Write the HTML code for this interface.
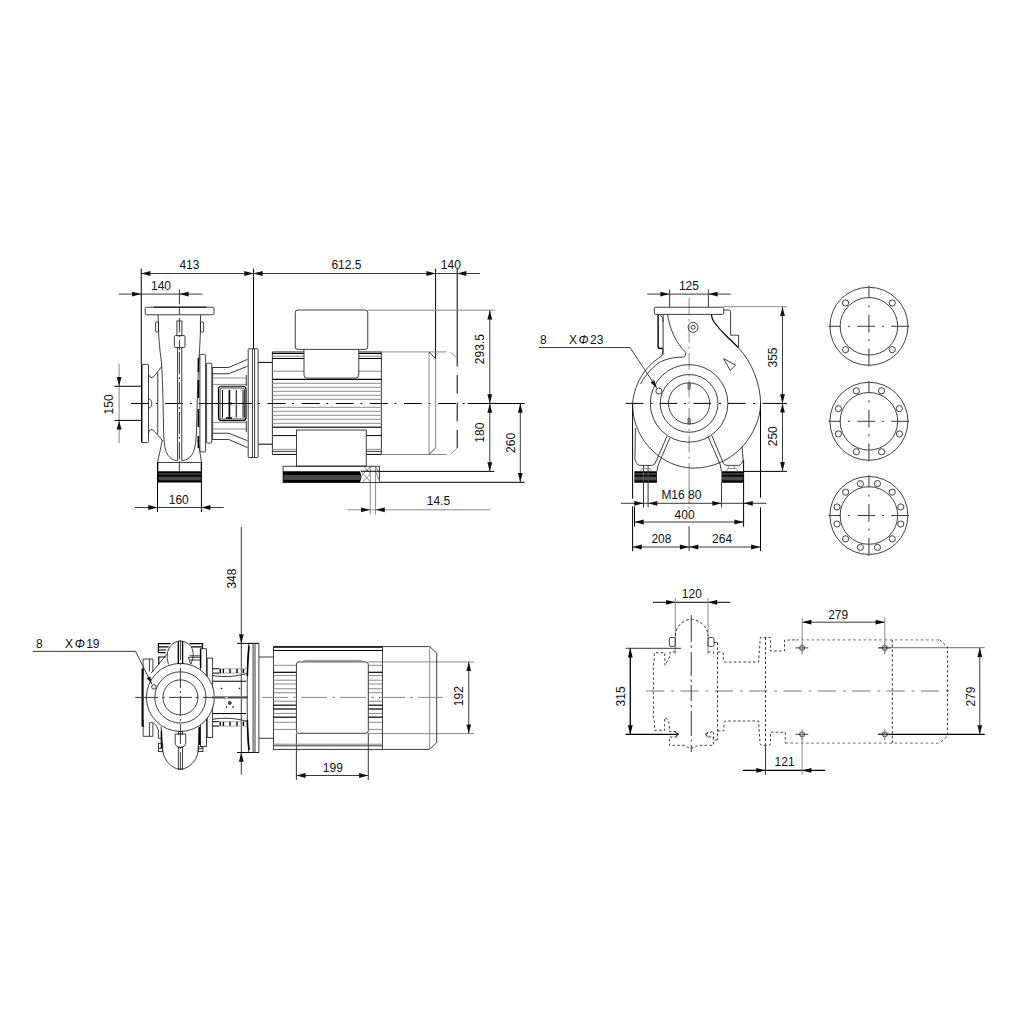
<!DOCTYPE html>
<html><head><meta charset="utf-8"><title>Dimensional drawing</title>
<style>
html,body{margin:0;padding:0;background:#fff;}
svg{display:block;}
text{font-family:"Liberation Sans",sans-serif;fill:#111;}
</style></head><body>
<svg width="1024" height="1024" viewBox="0 0 1024 1024">
<rect width="1024" height="1024" fill="#fff"/>
<g id="side-view">
<line x1="141.25" y1="273.5" x2="480" y2="273.5" stroke="#3a3a3a" stroke-width="1"/>
<polygon points="141.25,273.5 150.45,271.1 150.45,275.9" fill="#111"/>
<polygon points="253.5,273.5 244.3,271.1 244.3,275.9" fill="#111"/>
<polygon points="253.5,273.5 262.7,271.1 262.7,275.9" fill="#111"/>
<polygon points="435.6,273.5 426.4,271.1 426.4,275.9" fill="#111"/>
<polygon points="457.2,273.5 466.4,271.1 466.4,275.9" fill="#111"/>
<line x1="141.25" y1="268.75" x2="141.25" y2="364.4" stroke="#000" stroke-width="1"/>
<line x1="253.5" y1="268.75" x2="253.5" y2="348.75" stroke="#000" stroke-width="1"/>
<line x1="435.6" y1="268.75" x2="435.6" y2="358.6" stroke="#000" stroke-width="1"/>
<line x1="457.2" y1="268.75" x2="457.2" y2="366.4" stroke="#000" stroke-width="1"/>
<line x1="457.2" y1="375" x2="457.2" y2="393.5" stroke="#000" stroke-width="1"/>
<line x1="457.2" y1="402.6" x2="457.2" y2="421.4" stroke="#000" stroke-width="1"/>
<line x1="457.2" y1="430" x2="457.2" y2="448" stroke="#000" stroke-width="1"/>
<text x="189.4" y="268.75" text-anchor="middle" font-size="12">413</text>
<text x="346.4" y="268.75" text-anchor="middle" font-size="12">612.5</text>
<text x="450.8" y="268.75" text-anchor="middle" font-size="12">140</text>
<line x1="118.75" y1="294.1" x2="202.5" y2="294.1" stroke="#3a3a3a" stroke-width="1"/>
<polygon points="141.25,294.1 132.05,291.7 132.05,296.5" fill="#111"/>
<polygon points="179.4,294.1 188.6,291.7 188.6,296.5" fill="#111"/>
<text x="161" y="289.75" text-anchor="middle" font-size="12">140</text>
<line x1="119.1" y1="363.75" x2="119.1" y2="443.1" stroke="#8a8a8a" stroke-width="1"/>
<line x1="114.4" y1="386.25" x2="141.5" y2="386.25" stroke="#000" stroke-width="1"/>
<line x1="114.4" y1="420.4" x2="141.5" y2="420.4" stroke="#000" stroke-width="1"/>
<polygon points="119.1,386.25 116.7,377.05 121.5,377.05" fill="#111"/>
<polygon points="119.1,420.4 116.7,429.6 121.5,429.6" fill="#111"/>
<text transform="translate(113.1 404.4) rotate(-90)" text-anchor="middle" font-size="12">150</text>
<line x1="135" y1="507.5" x2="223.75" y2="507.5" stroke="#3a3a3a" stroke-width="1"/>
<polygon points="157.5,507.5 148.3,505.1 148.3,509.9" fill="#111"/>
<polygon points="201.25,507.5 210.45,505.1 210.45,509.9" fill="#111"/>
<line x1="157.5" y1="462.5" x2="157.5" y2="512" stroke="#000" stroke-width="1"/>
<line x1="201.4" y1="462.5" x2="201.4" y2="512" stroke="#000" stroke-width="1"/>
<text x="178.75" y="503.75" text-anchor="middle" font-size="12">160</text>
<line x1="347.5" y1="509.8" x2="490.3" y2="509.8" stroke="#8a8a8a" stroke-width="1"/>
<polygon points="370.25,509.8 361.05,507.4 361.05,512.2" fill="#111"/>
<polygon points="375.6,509.8 384.8,507.4 384.8,512.2" fill="#111"/>
<line x1="370.25" y1="466" x2="370.25" y2="514.4" stroke="#8a8a8a" stroke-width="1"/>
<line x1="375.6" y1="466" x2="375.6" y2="514.4" stroke="#8a8a8a" stroke-width="1"/>
<text x="438.4" y="504.5" text-anchor="middle" font-size="12">14.5</text>
<line x1="367.75" y1="310.2" x2="495" y2="310.2" stroke="#8a8a8a" stroke-width="1"/>
<line x1="489.8" y1="310.2" x2="489.8" y2="471.4" stroke="#3a3a3a" stroke-width="1"/>
<polygon points="489.8,310.2 487.4,319.4 492.2,319.4" fill="#111"/>
<polygon points="489.8,403.5 487.4,394.3 492.2,394.3" fill="#111"/>
<polygon points="489.8,403.5 487.4,412.7 492.2,412.7" fill="#111"/>
<polygon points="489.8,471.4 487.4,462.2 492.2,462.2" fill="#111"/>
<text transform="translate(484 349.2) rotate(-90)" text-anchor="middle" font-size="12">293.5</text>
<text transform="translate(484 432.7) rotate(-90)" text-anchor="middle" font-size="12">180</text>
<line x1="520.3" y1="403.5" x2="520.3" y2="482.3" stroke="#3a3a3a" stroke-width="1"/>
<polygon points="520.3,403.5 517.9,412.7 522.7,412.7" fill="#111"/>
<polygon points="520.3,482.3 517.9,473.1 522.7,473.1" fill="#111"/>
<text transform="translate(515.3 442.9) rotate(-90)" text-anchor="middle" font-size="12">260</text>
<line x1="379.5" y1="471.4" x2="494.2" y2="471.4" stroke="#000" stroke-width="1"/>
<line x1="379.5" y1="482.3" x2="524.7" y2="482.3" stroke="#000" stroke-width="1"/>
<line x1="131.1" y1="403.5" x2="149.1" y2="403.5" stroke="#000" stroke-width="1"/>
<line x1="155.9" y1="403.5" x2="157.7" y2="403.5" stroke="#000" stroke-width="1"/>
<line x1="165.2" y1="403.5" x2="183.2" y2="403.5" stroke="#000" stroke-width="1"/>
<line x1="190" y1="403.5" x2="191.8" y2="403.5" stroke="#000" stroke-width="1"/>
<line x1="258.2" y1="403.5" x2="260" y2="403.5" stroke="#000" stroke-width="1"/>
<line x1="267.5" y1="403.5" x2="285.5" y2="403.5" stroke="#000" stroke-width="1"/>
<line x1="292.3" y1="403.5" x2="294.1" y2="403.5" stroke="#000" stroke-width="1"/>
<line x1="301.6" y1="403.5" x2="319.6" y2="403.5" stroke="#000" stroke-width="1"/>
<line x1="326.4" y1="403.5" x2="328.2" y2="403.5" stroke="#000" stroke-width="1"/>
<line x1="335.7" y1="403.5" x2="353.7" y2="403.5" stroke="#000" stroke-width="1"/>
<line x1="360.5" y1="403.5" x2="362.3" y2="403.5" stroke="#000" stroke-width="1"/>
<line x1="369.8" y1="403.5" x2="387.8" y2="403.5" stroke="#000" stroke-width="1"/>
<line x1="394.6" y1="403.5" x2="396.4" y2="403.5" stroke="#000" stroke-width="1"/>
<line x1="403.9" y1="403.5" x2="421.9" y2="403.5" stroke="#000" stroke-width="1"/>
<line x1="428.7" y1="403.5" x2="430.5" y2="403.5" stroke="#000" stroke-width="1"/>
<line x1="438" y1="403.5" x2="456" y2="403.5" stroke="#000" stroke-width="1"/>
<line x1="462.8" y1="403.5" x2="464.6" y2="403.5" stroke="#000" stroke-width="1"/>
<line x1="198.75" y1="403.5" x2="252" y2="403.5" stroke="#000" stroke-width="1"/>
<line x1="467.7" y1="403.5" x2="524.7" y2="403.5" stroke="#000" stroke-width="1"/>
<rect x="141.9" y="364.4" width="6.6" height="78.1" rx="0.8" stroke="#1e1e1e" stroke-width="0.85" fill="none"/>
<line x1="141.6" y1="364.4" x2="141.6" y2="442.5" stroke="#000" stroke-width="1.2"/>
<path d="M148.5 373.75 C149.5 376.5 150.6 378.3 152 377.6 C155 375.5 158 371.5 161.6 366.5" stroke="#1e1e1e" stroke-width="0.85" fill="none"/>
<path d="M148.5 433.2 C149.5 430.5 150.6 428.7 152 429.4 C155 431.5 158.5 436 162.8 441" stroke="#1e1e1e" stroke-width="0.85" fill="none"/>
<path d="M148.5 398.75 C152.8 399 152.8 408 148.5 408.2" stroke="#1e1e1e" stroke-width="0.85" fill="none"/>
<line x1="157.75" y1="372.5" x2="157.75" y2="434.5" stroke="#3a3a3a" stroke-width="1"/>
<rect x="145.25" y="307.25" width="68.75" height="7.5" rx="1.2" stroke="#1e1e1e" stroke-width="0.85" fill="none"/>
<line x1="153.75" y1="307.1" x2="206.25" y2="307.1" stroke="#000" stroke-width="1"/>
<path d="M158 314.75 L158.4 322 L158.6 332 C159.2 345 160.5 355 161.4 362 C162.3 372 163 395 163.6 430 C163.9 444 165 451 168 455.3 C170.5 458.5 173.5 460.3 176.25 460.6 L177.5 460.6" stroke="#1e1e1e" stroke-width="0.85" fill="none"/>
<path d="M200.6 314.75 L200.4 322 L200.4 332 C199.9 345 199.3 355 198.75 362 C197.8 380 197 410 196.5 430 C196.2 444 194.5 451 191.5 455.3 C189 458.5 186 460.3 183.2 460.6 L181.9 460.6" stroke="#1e1e1e" stroke-width="0.85" fill="none"/>
<rect x="155.6" y="322" width="2.9" height="10" rx="1" stroke="#1e1e1e" stroke-width="0.85" fill="none"/>
<rect x="200.5" y="322" width="3.1" height="10" rx="1" stroke="#1e1e1e" stroke-width="0.85" fill="none"/>
<rect x="176.9" y="321" width="5" height="14.6" rx="0" stroke="#3a3a3a" stroke-width="1" fill="none"/>
<rect x="174.4" y="335.6" width="10.6" height="11.9" rx="1" stroke="#3a3a3a" stroke-width="1" fill="none"/>
<line x1="177.6" y1="347.5" x2="177.6" y2="460.6" stroke="#3a3a3a" stroke-width="1"/>
<line x1="181.8" y1="347.5" x2="181.8" y2="460.6" stroke="#3a3a3a" stroke-width="1"/>
<line x1="179.4" y1="289.4" x2="179.4" y2="304.4" stroke="#3a3a3a" stroke-width="1"/>
<line x1="179.4" y1="306.9" x2="179.4" y2="314.4" stroke="#3a3a3a" stroke-width="1"/>
<line x1="179.4" y1="318" x2="179.4" y2="350" stroke="#3a3a3a" stroke-width="1" stroke-dasharray="14 3 2 3"/>
<line x1="179.4" y1="352" x2="179.4" y2="459" stroke="#3a3a3a" stroke-width="1" stroke-dasharray="22 3 2 3"/>
<line x1="179.4" y1="461" x2="179.4" y2="473" stroke="#3a3a3a" stroke-width="1"/>
<path d="M162.4 440 L157.5 462.5 L201.5 462.5 L198 440" stroke="#1e1e1e" stroke-width="0.85" fill="none"/>
<line x1="157.8" y1="462.5" x2="157.8" y2="471.25" stroke="#000" stroke-width="1"/>
<line x1="201.3" y1="462.5" x2="201.3" y2="471.25" stroke="#000" stroke-width="1"/>
<rect x="158" y="471.25" width="43.25" height="11.25" rx="0" fill="#000"/>
<rect x="158.5" y="473.2" width="42.3" height="1.6" rx="0" fill="#4a4a4a"/>
<rect x="158.5" y="476.6" width="42.3" height="3.8" rx="0" fill="#4a4a4a"/>
<rect x="199.9" y="354.4" width="5.7" height="97.5" rx="0.8" stroke="#1e1e1e" stroke-width="0.85" fill="none"/>
<rect x="206.6" y="363.3" width="5.2" height="79.8" rx="0.8" stroke="#1e1e1e" stroke-width="0.85" fill="none"/>
<line x1="198.4" y1="358" x2="198.4" y2="372" stroke="#000" stroke-width="1.6"/>
<line x1="198.4" y1="380" x2="198.4" y2="398" stroke="#000" stroke-width="1.6"/>
<line x1="198.4" y1="409" x2="198.4" y2="427" stroke="#000" stroke-width="1.6"/>
<line x1="198.4" y1="436" x2="198.4" y2="448" stroke="#000" stroke-width="1.6"/>
<path d="M212 439.5 L228.75 439.5 L247.5 447.6" stroke="#3a3a3a" stroke-width="1" fill="none"/>
<path d="M212 433.25 L228.75 433.25 L247.5 440.75" stroke="#3a3a3a" stroke-width="1" fill="none"/>
<line x1="212" y1="429" x2="246.25" y2="429" stroke="#8a8a8a" stroke-width="1"/>
<line x1="212" y1="422.6" x2="246.25" y2="422.6" stroke="#8a8a8a" stroke-width="1"/>
<line x1="246.25" y1="432" x2="246.25" y2="421" stroke="#3a3a3a" stroke-width="1"/>
<path d="M212 367.5 L228.75 367.5 L247.5 359.4" stroke="#3a3a3a" stroke-width="1" fill="none"/>
<path d="M212 373.75 L228.75 373.75 L247.5 366.25" stroke="#3a3a3a" stroke-width="1" fill="none"/>
<line x1="212" y1="378" x2="246.25" y2="378" stroke="#8a8a8a" stroke-width="1"/>
<line x1="212" y1="384.4" x2="246.25" y2="384.4" stroke="#8a8a8a" stroke-width="1"/>
<line x1="246.25" y1="375" x2="246.25" y2="386" stroke="#3a3a3a" stroke-width="1"/>
<line x1="212.6" y1="367.5" x2="212.6" y2="439.5" stroke="#3a3a3a" stroke-width="1"/>
<rect x="218.5" y="386.25" width="27.5" height="34.35" rx="3" stroke="#000" stroke-width="1.2" fill="none"/>
<rect x="220" y="388" width="24.5" height="31" rx="2" stroke="#3a3a3a" stroke-width="1" fill="none"/>
<line x1="222.5" y1="390" x2="222.5" y2="417.5" stroke="#000" stroke-width="1"/>
<line x1="229.4" y1="390" x2="229.4" y2="417.5" stroke="#000" stroke-width="1.6"/>
<line x1="236.25" y1="390" x2="236.25" y2="417.5" stroke="#000" stroke-width="1"/>
<line x1="243" y1="390" x2="243" y2="417.5" stroke="#000" stroke-width="1"/>
<line x1="228.5" y1="402" x2="231.5" y2="405" stroke="#000" stroke-width="0.8"/>
<line x1="228.5" y1="405" x2="231.5" y2="402" stroke="#000" stroke-width="0.8"/>
<line x1="226" y1="418" x2="232" y2="418" stroke="#000" stroke-width="1.6"/>
<rect x="248.2" y="348.75" width="9.9" height="108.75" rx="0.8" stroke="#1e1e1e" stroke-width="0.85" fill="none"/>
<line x1="252.4" y1="348.75" x2="252.4" y2="457.5" stroke="#3a3a3a" stroke-width="1"/>
<line x1="254.6" y1="348.75" x2="254.6" y2="457.5" stroke="#3a3a3a" stroke-width="1"/>
<line x1="258.1" y1="362.4" x2="272.4" y2="362.4" stroke="#000" stroke-width="1"/>
<line x1="258.1" y1="444.2" x2="272.4" y2="444.2" stroke="#000" stroke-width="1"/>
<line x1="272.4" y1="351.9" x2="272.4" y2="454.4" stroke="#1e1e1e" stroke-width="0.9"/>
<line x1="381.4" y1="351.9" x2="381.4" y2="454.4" stroke="#1e1e1e" stroke-width="0.9"/>
<line x1="272.4" y1="351.9" x2="304" y2="351.9" stroke="#3a3a3a" stroke-width="1"/>
<line x1="272.4" y1="353.4" x2="304" y2="353.4" stroke="#000" stroke-width="1.2"/>
<line x1="272.4" y1="356.25" x2="304" y2="356.25" stroke="#8a8a8a" stroke-width="1"/>
<line x1="272.4" y1="358.5" x2="304" y2="358.5" stroke="#000" stroke-width="1"/>
<line x1="272.4" y1="371.25" x2="304" y2="371.25" stroke="#8a8a8a" stroke-width="1"/>
<line x1="358.75" y1="351.9" x2="381.4" y2="351.9" stroke="#3a3a3a" stroke-width="1"/>
<line x1="358.75" y1="353.4" x2="381.4" y2="353.4" stroke="#000" stroke-width="1.2"/>
<line x1="358.75" y1="356.25" x2="381.4" y2="356.25" stroke="#8a8a8a" stroke-width="1"/>
<line x1="358.75" y1="358.5" x2="381.4" y2="358.5" stroke="#000" stroke-width="1"/>
<line x1="358.75" y1="371.25" x2="381.4" y2="371.25" stroke="#8a8a8a" stroke-width="1"/>
<line x1="272.4" y1="435.6" x2="296.5" y2="435.6" stroke="#000" stroke-width="1"/>
<line x1="366.25" y1="435.6" x2="381.4" y2="435.6" stroke="#000" stroke-width="1"/>
<line x1="272.4" y1="449.4" x2="296.5" y2="449.4" stroke="#8a8a8a" stroke-width="1"/>
<line x1="272.4" y1="451.4" x2="296.5" y2="451.4" stroke="#3a3a3a" stroke-width="1"/>
<line x1="272.4" y1="454.4" x2="296.5" y2="454.4" stroke="#000" stroke-width="1"/>
<line x1="366.25" y1="449.4" x2="381.4" y2="449.4" stroke="#8a8a8a" stroke-width="1"/>
<line x1="366.25" y1="451.4" x2="381.4" y2="451.4" stroke="#3a3a3a" stroke-width="1"/>
<line x1="366.25" y1="454.4" x2="381.4" y2="454.4" stroke="#000" stroke-width="1"/>
<line x1="272.4" y1="379.4" x2="381.4" y2="379.4" stroke="#000" stroke-width="1.3"/>
<line x1="272.4" y1="383.4" x2="381.4" y2="383.4" stroke="#a2a2a2" stroke-width="1.2"/>
<line x1="272.4" y1="387.4" x2="381.4" y2="387.4" stroke="#a2a2a2" stroke-width="1.2"/>
<line x1="272.4" y1="391.4" x2="381.4" y2="391.4" stroke="#a2a2a2" stroke-width="1.2"/>
<line x1="272.4" y1="395.4" x2="381.4" y2="395.4" stroke="#a2a2a2" stroke-width="1.2"/>
<line x1="272.4" y1="399.4" x2="381.4" y2="399.4" stroke="#a2a2a2" stroke-width="1.2"/>
<line x1="272.4" y1="407.4" x2="381.4" y2="407.4" stroke="#a2a2a2" stroke-width="1.2"/>
<line x1="272.4" y1="411.4" x2="381.4" y2="411.4" stroke="#a2a2a2" stroke-width="1.2"/>
<line x1="272.4" y1="415.4" x2="381.4" y2="415.4" stroke="#a2a2a2" stroke-width="1.2"/>
<line x1="272.4" y1="419.4" x2="381.4" y2="419.4" stroke="#a2a2a2" stroke-width="1.2"/>
<line x1="272.4" y1="423.4" x2="381.4" y2="423.4" stroke="#a2a2a2" stroke-width="1.2"/>
<line x1="272.4" y1="427.4" x2="381.4" y2="427.4" stroke="#a2a2a2" stroke-width="1.2"/>
<line x1="272.4" y1="427.2" x2="381.4" y2="427.2" stroke="#000" stroke-width="1"/>
<rect x="295.25" y="310" width="72.5" height="39.4" rx="2.5" stroke="#1e1e1e" stroke-width="0.85" fill="none"/>
<path d="M304 349.4 L304 375 Q304 378.1 307 378.1 L355.75 378.1 Q358.75 378.1 358.75 375 L358.75 349.4" stroke="#1e1e1e" stroke-width="0.85" fill="none"/>
<rect x="296.5" y="430" width="69.75" height="36.1" rx="0" stroke="#1e1e1e" stroke-width="0.85" fill="none"/>
<rect x="283.1" y="466.25" width="96.3" height="16.25" rx="0" stroke="#1e1e1e" stroke-width="0.85" fill="none"/>
<path d="M283.1 471.25 L360 471.25 L361.6 476.9 L360 482.5 L283.1 482.5 Z" stroke="None" stroke-width="0" fill="#000"/>
<path d="M283.6 475 L360.2 475 L360.8 477.4 L360.2 480 L283.6 480 Z" stroke="None" stroke-width="0" fill="#484848"/>
<line x1="360.5" y1="470.5" x2="370" y2="481.5" stroke="#8a8a8a" stroke-width="1"/>
<line x1="364" y1="466.5" x2="370.25" y2="473.5" stroke="#8a8a8a" stroke-width="1"/>
<line x1="370" y1="467" x2="360.5" y2="477" stroke="#8a8a8a" stroke-width="1"/>
<line x1="370" y1="474" x2="362.5" y2="482.3" stroke="#8a8a8a" stroke-width="1"/>
<line x1="375.8" y1="472" x2="379.2" y2="480" stroke="#8a8a8a" stroke-width="1"/>
<line x1="375.8" y1="467" x2="379.2" y2="473" stroke="#8a8a8a" stroke-width="1"/>
<line x1="361" y1="471.25" x2="379.4" y2="471.25" stroke="#000" stroke-width="1"/>
<line x1="381.4" y1="351.9" x2="446.5" y2="351.9" stroke="#8a8a8a" stroke-width="1"/>
<line x1="381.4" y1="454.5" x2="446.5" y2="454.5" stroke="#8a8a8a" stroke-width="1"/>
<line x1="429" y1="351.9" x2="429" y2="454.5" stroke="#8a8a8a" stroke-width="1"/>
<line x1="435.6" y1="358.6" x2="435.6" y2="448" stroke="#8a8a8a" stroke-width="1"/>
<line x1="429" y1="351.9" x2="435.6" y2="358.6" stroke="#3a3a3a" stroke-width="1"/>
<line x1="450.5" y1="351.9" x2="457.2" y2="358.6" stroke="#8a8a8a" stroke-width="1"/>
<line x1="429" y1="454.5" x2="435.6" y2="448" stroke="#3a3a3a" stroke-width="1"/>
<line x1="450.5" y1="454.5" x2="457.2" y2="448" stroke="#8a8a8a" stroke-width="1"/>
</g>
<g id="front-view">
<text x="540" y="343.75" text-anchor="start" font-size="12">8</text>
<text x="569" y="343.75" text-anchor="start" font-size="12">X</text>
<text x="578.6" y="343.75" font-size="12" font-style="italic">Φ</text>
<text x="590" y="343.75" text-anchor="start" font-size="12">23</text>
<path d="M539 347.5 L630 347.5 L656.6 387.6" stroke="#1e1e1e" stroke-width="0.85" fill="none"/>
<polygon points="656.8,387.9 650.54,382.45 654.21,380.02" fill="#111"/>
<circle cx="658.9" cy="391.1" r="3" stroke="#1e1e1e" stroke-width="0.85" fill="none"/>
<line x1="647.25" y1="294.1" x2="730.6" y2="294.1" stroke="#3a3a3a" stroke-width="1"/>
<line x1="669.6" y1="289.4" x2="669.6" y2="307" stroke="#3a3a3a" stroke-width="1"/>
<line x1="708.4" y1="289.4" x2="708.4" y2="307" stroke="#3a3a3a" stroke-width="1"/>
<polygon points="669.6,294.1 660.4,291.7 660.4,296.5" fill="#111"/>
<polygon points="708.4,294.1 717.6,291.7 717.6,296.5" fill="#111"/>
<text x="688.9" y="290" text-anchor="middle" font-size="12">125</text>
<line x1="723.75" y1="306.7" x2="786.9" y2="306.7" stroke="#8a8a8a" stroke-width="1"/>
<line x1="782.5" y1="306.7" x2="782.5" y2="471.25" stroke="#3a3a3a" stroke-width="1"/>
<polygon points="782.5,306.7 780.1,315.9 784.9,315.9" fill="#111"/>
<polygon points="782.5,403.4 780.1,394.2 784.9,394.2" fill="#111"/>
<polygon points="782.5,403.4 780.1,412.6 784.9,412.6" fill="#111"/>
<polygon points="782.5,471.25 780.1,462.05 784.9,462.05" fill="#111"/>
<text transform="translate(776.5 357.5) rotate(-90)" text-anchor="middle" font-size="12">355</text>
<text transform="translate(776.5 436.25) rotate(-90)" text-anchor="middle" font-size="12">250</text>
<line x1="743.6" y1="471.4" x2="786.9" y2="471.4" stroke="#000" stroke-width="1"/>
<line x1="625.6" y1="403.4" x2="643.3" y2="403.4" stroke="#000" stroke-width="1"/>
<line x1="650.5" y1="403.4" x2="652.5" y2="403.4" stroke="#000" stroke-width="1"/>
<line x1="659.8" y1="403.4" x2="677.2" y2="403.4" stroke="#000" stroke-width="1"/>
<line x1="684.2" y1="403.4" x2="686" y2="403.4" stroke="#000" stroke-width="1"/>
<line x1="693.5" y1="403.4" x2="711.2" y2="403.4" stroke="#000" stroke-width="1"/>
<line x1="719" y1="403.4" x2="721" y2="403.4" stroke="#000" stroke-width="1"/>
<line x1="728" y1="403.4" x2="745.6" y2="403.4" stroke="#000" stroke-width="1"/>
<line x1="753" y1="403.4" x2="755" y2="403.4" stroke="#000" stroke-width="1"/>
<line x1="762.5" y1="403.4" x2="786.9" y2="403.4" stroke="#000" stroke-width="1"/>
<line x1="689.1" y1="298" x2="689.1" y2="470" stroke="#8a8a8a" stroke-width="1" stroke-dasharray="17 4 2.5 4"/>
<line x1="689.1" y1="470" x2="689.1" y2="504" stroke="#8a8a8a" stroke-width="1"/>
<line x1="689.1" y1="507" x2="689.1" y2="519" stroke="#8a8a8a" stroke-width="1" stroke-dasharray="2 8 4 0"/>
<line x1="689.1" y1="526" x2="689.1" y2="551" stroke="#3a3a3a" stroke-width="1"/>
<line x1="621" y1="503.3" x2="766.25" y2="503.3" stroke="#3a3a3a" stroke-width="1"/>
<polygon points="643.5,503.3 634.3,500.9 634.3,505.7" fill="#111"/>
<polygon points="648.1,503.3 657.3,500.9 657.3,505.7" fill="#111"/>
<polygon points="721.5,503.3 712.3,500.9 712.3,505.7" fill="#111"/>
<polygon points="743.6,503.3 752.8,500.9 752.8,505.7" fill="#111"/>
<line x1="643.5" y1="465.4" x2="643.5" y2="507.5" stroke="#3a3a3a" stroke-width="1"/>
<line x1="648.1" y1="465.4" x2="648.1" y2="507.5" stroke="#3a3a3a" stroke-width="1"/>
<line x1="721.5" y1="482.75" x2="721.5" y2="507.5" stroke="#3a3a3a" stroke-width="1"/>
<text x="681.4" y="498.8" text-anchor="middle" font-size="12">M16 80</text>
<line x1="634.5" y1="522" x2="743.6" y2="522" stroke="#3a3a3a" stroke-width="1"/>
<polygon points="634.5,522 643.7,519.6 643.7,524.4" fill="#111"/>
<polygon points="743.6,522 734.4,519.6 734.4,524.4" fill="#111"/>
<line x1="634.5" y1="506.4" x2="634.5" y2="526.7" stroke="#000" stroke-width="1"/>
<line x1="743.6" y1="460" x2="743.6" y2="526.7" stroke="#000" stroke-width="1"/>
<text x="684.6" y="518.6" text-anchor="middle" font-size="12">400</text>
<line x1="632.6" y1="547" x2="760.3" y2="547" stroke="#3a3a3a" stroke-width="1"/>
<polygon points="632.6,547 641.8,544.6 641.8,549.4" fill="#111"/>
<polygon points="689.1,547 679.9,544.6 679.9,549.4" fill="#111"/>
<polygon points="689.1,547 698.3,544.6 698.3,549.4" fill="#111"/>
<polygon points="760.3,547 751.1,544.6 751.1,549.4" fill="#111"/>
<line x1="632.6" y1="403" x2="632.6" y2="498.6" stroke="#000" stroke-width="1"/>
<line x1="632.6" y1="506.4" x2="632.6" y2="551" stroke="#000" stroke-width="1"/>
<line x1="760.5" y1="403" x2="760.5" y2="497.6" stroke="#000" stroke-width="1"/>
<line x1="760.5" y1="507.3" x2="760.5" y2="551" stroke="#000" stroke-width="1"/>
<text x="661.4" y="542.8" text-anchor="middle" font-size="12">208</text>
<text x="722.1" y="542.8" text-anchor="middle" font-size="12">264</text>
<rect x="654.4" y="307.25" width="69.35" height="7.15" rx="1.2" stroke="#1e1e1e" stroke-width="0.85" fill="none"/>
<path d="M658.1 314.4 L658.1 347 Q658.1 348.5 660 348.5 L663.1 348.5" stroke="#000" stroke-width="1.4" fill="none"/>
<line x1="663.1" y1="314.4" x2="663.1" y2="355" stroke="#3a3a3a" stroke-width="1"/>
<path d="M659.5 314.6 C662 316 663 318 663.1 322" stroke="#3a3a3a" stroke-width="1" fill="none"/>
<path d="M667.5 314.4 C670 330 676 343 685.8 352.5 C686 354.5 685 356.5 684 357 C676 357 667 358.5 660.5 361.8 C654 365.5 646 374 640.5 384" stroke="#1e1e1e" stroke-width="0.85" fill="none"/>
<path d="M663 349.5 C662.8 352 662.6 354 661.2 356.5 C648 364 634.5 381 632.6 403.4 C632.6 409 633.3 415 634.8 421 C641 444 662 466.5 692 468.1 C712 468.5 731 460 743.5 445.5 C753 434 760.6 419 760.6 403.4 C760.4 384 752 362 738.3 347.6" stroke="#1e1e1e" stroke-width="0.85" fill="none"/>
<path d="M711.3 314.4 C711.8 318 712.6 320 713.75 321.5 C717 326 721 331 725.6 335.2 C730 339.5 734 343.5 738.3 347.6" stroke="#000" stroke-width="1.2" fill="none"/>
<path d="M723.75 310 L728.8 310 Q730.6 310 730.6 311.8 L730.6 335.2 L738.6 335.2 L738.6 347.6" stroke="#1e1e1e" stroke-width="0.85" fill="none"/>
<circle cx="693.1" cy="327.3" r="5" stroke="#1e1e1e" stroke-width="0.85" fill="none"/>
<circle cx="693.1" cy="327.3" r="2" stroke="#1e1e1e" stroke-width="0.85" fill="none"/>
<path d="M723.6 358.6 L735.6 365.1 L730.2 370.4 Z" stroke="#1e1e1e" stroke-width="0.85" fill="none"/>
<circle cx="689.1" cy="403.4" r="38.8" stroke="#1e1e1e" stroke-width="0.85" fill="none"/>
<circle cx="689.1" cy="403.4" r="28.9" stroke="#1e1e1e" stroke-width="0.85" fill="none"/>
<circle cx="689.1" cy="403.4" r="20.6" stroke="#1e1e1e" stroke-width="0.85" fill="none"/>
<path d="M688.1 382.9 L688.1 388.5 L689.1 389.8 L690.1 388.5 L690.1 382.9" stroke="#3a3a3a" stroke-width="1" fill="none"/>
<path d="M688.1 424 L688.1 418.6 Q689.1 417 690.1 418.6 L690.1 424" stroke="#3a3a3a" stroke-width="1" fill="none"/>
<path d="M667 436.2 L655.3 463 Q654.3 465.4 651.5 465.4 L639.6 465.4 Q637.5 465.3 636.5 463 L634.9 459.5 L635.4 428" stroke="#1e1e1e" stroke-width="0.85" fill="none"/>
<path d="M669.8 437.9 L657.6 466.5 L657 471.2" stroke="#1e1e1e" stroke-width="0.85" fill="none"/>
<path d="M711.8 435.4 L723.3 463.2 Q724.3 465.4 727 465.4 L738.6 465.4 Q740.8 465.3 741.6 463.2 L743.2 460.4 L742 446.3" stroke="#1e1e1e" stroke-width="0.85" fill="none"/>
<path d="M708.2 436.8 L720 464 L721.5 471.2" stroke="#1e1e1e" stroke-width="0.85" fill="none"/>
<path d="M640.5 471.2 L641.8 468.6 L650.2 468.6 L651.4 471.2" stroke="#8a8a8a" stroke-width="1" fill="none"/>
<path d="M726.4 471.2 L727.6 468.6 L736.6 468.6 L737.8 471.2" stroke="#8a8a8a" stroke-width="1" fill="none"/>
<line x1="728.8" y1="465.4" x2="728.8" y2="468.6" stroke="#8a8a8a" stroke-width="1"/>
<line x1="734.4" y1="465.4" x2="734.4" y2="468.6" stroke="#8a8a8a" stroke-width="1"/>
<rect x="634.4" y="471.25" width="22.5" height="11.5" rx="0" fill="#000"/>
<rect x="634.9" y="473.2" width="21.5" height="1.6" rx="0" fill="#4a4a4a"/>
<rect x="634.9" y="476.6" width="21.5" height="3.8" rx="0" fill="#4a4a4a"/>
<rect x="721.5" y="471.25" width="22.2" height="11.5" rx="0" fill="#000"/>
<rect x="722" y="473.2" width="21.2" height="1.6" rx="0" fill="#4a4a4a"/>
<rect x="722" y="476.6" width="21.2" height="3.8" rx="0" fill="#4a4a4a"/>
<line x1="643.5" y1="471.25" x2="643.5" y2="482.75" stroke="#555" stroke-width="1"/>
<line x1="648.1" y1="471.25" x2="648.1" y2="482.75" stroke="#555" stroke-width="1"/>
</g>
<g id="flanges">
<circle cx="868.9" cy="326.3" r="39" stroke="#1e1e1e" stroke-width="0.85" fill="none"/>
<circle cx="868.9" cy="326.3" r="28.8" stroke="#1e1e1e" stroke-width="0.85" fill="none"/>
<circle cx="892.23" cy="349.63" r="3.1" stroke="#1e1e1e" stroke-width="0.85" fill="none"/>
<circle cx="845.57" cy="349.63" r="3.1" stroke="#1e1e1e" stroke-width="0.85" fill="none"/>
<circle cx="845.57" cy="302.97" r="3.1" stroke="#1e1e1e" stroke-width="0.85" fill="none"/>
<circle cx="892.23" cy="302.97" r="3.1" stroke="#1e1e1e" stroke-width="0.85" fill="none"/>
<line x1="828.4" y1="326.3" x2="840.9" y2="326.3" stroke="#3a3a3a" stroke-width="1"/>
<line x1="868.9" y1="285.8" x2="868.9" y2="298.3" stroke="#555" stroke-width="1.2"/>
<line x1="847.9" y1="326.3" x2="849.9" y2="326.3" stroke="#3a3a3a" stroke-width="1"/>
<line x1="868.9" y1="305.3" x2="868.9" y2="307.3" stroke="#555" stroke-width="1.2"/>
<line x1="857.4" y1="326.3" x2="875.1" y2="326.3" stroke="#3a3a3a" stroke-width="1"/>
<line x1="868.9" y1="314.8" x2="868.9" y2="332.5" stroke="#555" stroke-width="1.2"/>
<line x1="881.9" y1="326.3" x2="883.9" y2="326.3" stroke="#3a3a3a" stroke-width="1"/>
<line x1="868.9" y1="339.3" x2="868.9" y2="341.3" stroke="#555" stroke-width="1.2"/>
<line x1="891.2" y1="326.3" x2="909.2" y2="326.3" stroke="#3a3a3a" stroke-width="1"/>
<line x1="868.9" y1="348.6" x2="868.9" y2="366.6" stroke="#555" stroke-width="1.2"/>
<circle cx="868.9" cy="421.3" r="39" stroke="#1e1e1e" stroke-width="0.85" fill="none"/>
<circle cx="868.9" cy="421.3" r="28.8" stroke="#1e1e1e" stroke-width="0.85" fill="none"/>
<circle cx="899.39" cy="433.93" r="3.1" stroke="#1e1e1e" stroke-width="0.85" fill="none"/>
<circle cx="881.53" cy="451.79" r="3.1" stroke="#1e1e1e" stroke-width="0.85" fill="none"/>
<circle cx="856.27" cy="451.79" r="3.1" stroke="#1e1e1e" stroke-width="0.85" fill="none"/>
<circle cx="838.41" cy="433.93" r="3.1" stroke="#1e1e1e" stroke-width="0.85" fill="none"/>
<circle cx="838.41" cy="408.67" r="3.1" stroke="#1e1e1e" stroke-width="0.85" fill="none"/>
<circle cx="856.27" cy="390.81" r="3.1" stroke="#1e1e1e" stroke-width="0.85" fill="none"/>
<circle cx="881.53" cy="390.81" r="3.1" stroke="#1e1e1e" stroke-width="0.85" fill="none"/>
<circle cx="899.39" cy="408.67" r="3.1" stroke="#1e1e1e" stroke-width="0.85" fill="none"/>
<line x1="828.4" y1="421.3" x2="840.9" y2="421.3" stroke="#3a3a3a" stroke-width="1"/>
<line x1="868.9" y1="380.8" x2="868.9" y2="393.3" stroke="#555" stroke-width="1.2"/>
<line x1="847.9" y1="421.3" x2="849.9" y2="421.3" stroke="#3a3a3a" stroke-width="1"/>
<line x1="868.9" y1="400.3" x2="868.9" y2="402.3" stroke="#555" stroke-width="1.2"/>
<line x1="857.4" y1="421.3" x2="875.1" y2="421.3" stroke="#3a3a3a" stroke-width="1"/>
<line x1="868.9" y1="409.8" x2="868.9" y2="427.5" stroke="#555" stroke-width="1.2"/>
<line x1="881.9" y1="421.3" x2="883.9" y2="421.3" stroke="#3a3a3a" stroke-width="1"/>
<line x1="868.9" y1="434.3" x2="868.9" y2="436.3" stroke="#555" stroke-width="1.2"/>
<line x1="891.2" y1="421.3" x2="909.2" y2="421.3" stroke="#3a3a3a" stroke-width="1"/>
<line x1="868.9" y1="443.6" x2="868.9" y2="461.6" stroke="#555" stroke-width="1.2"/>
<circle cx="868.9" cy="515.5" r="39" stroke="#1e1e1e" stroke-width="0.85" fill="none"/>
<circle cx="868.9" cy="515.5" r="28.8" stroke="#1e1e1e" stroke-width="0.85" fill="none"/>
<circle cx="900.78" cy="524.04" r="3.1" stroke="#1e1e1e" stroke-width="0.85" fill="none"/>
<circle cx="892.23" cy="538.83" r="3.1" stroke="#1e1e1e" stroke-width="0.85" fill="none"/>
<circle cx="877.44" cy="547.38" r="3.1" stroke="#1e1e1e" stroke-width="0.85" fill="none"/>
<circle cx="860.36" cy="547.38" r="3.1" stroke="#1e1e1e" stroke-width="0.85" fill="none"/>
<circle cx="845.57" cy="538.83" r="3.1" stroke="#1e1e1e" stroke-width="0.85" fill="none"/>
<circle cx="837.02" cy="524.04" r="3.1" stroke="#1e1e1e" stroke-width="0.85" fill="none"/>
<circle cx="837.02" cy="506.96" r="3.1" stroke="#1e1e1e" stroke-width="0.85" fill="none"/>
<circle cx="845.57" cy="492.17" r="3.1" stroke="#1e1e1e" stroke-width="0.85" fill="none"/>
<circle cx="860.36" cy="483.62" r="3.1" stroke="#1e1e1e" stroke-width="0.85" fill="none"/>
<circle cx="877.44" cy="483.62" r="3.1" stroke="#1e1e1e" stroke-width="0.85" fill="none"/>
<circle cx="892.23" cy="492.17" r="3.1" stroke="#1e1e1e" stroke-width="0.85" fill="none"/>
<circle cx="900.78" cy="506.96" r="3.1" stroke="#1e1e1e" stroke-width="0.85" fill="none"/>
<line x1="828.4" y1="515.5" x2="840.9" y2="515.5" stroke="#3a3a3a" stroke-width="1"/>
<line x1="868.9" y1="475" x2="868.9" y2="487.5" stroke="#555" stroke-width="1.2"/>
<line x1="847.9" y1="515.5" x2="849.9" y2="515.5" stroke="#3a3a3a" stroke-width="1"/>
<line x1="868.9" y1="494.5" x2="868.9" y2="496.5" stroke="#555" stroke-width="1.2"/>
<line x1="857.4" y1="515.5" x2="875.1" y2="515.5" stroke="#3a3a3a" stroke-width="1"/>
<line x1="868.9" y1="504" x2="868.9" y2="521.7" stroke="#555" stroke-width="1.2"/>
<line x1="881.9" y1="515.5" x2="883.9" y2="515.5" stroke="#3a3a3a" stroke-width="1"/>
<line x1="868.9" y1="528.5" x2="868.9" y2="530.5" stroke="#555" stroke-width="1.2"/>
<line x1="891.2" y1="515.5" x2="909.2" y2="515.5" stroke="#3a3a3a" stroke-width="1"/>
<line x1="868.9" y1="537.8" x2="868.9" y2="555.8" stroke="#555" stroke-width="1.2"/>
</g>
<g id="top-view">
<text x="36" y="647.5" text-anchor="start" font-size="12">8</text>
<text x="65" y="647.5" text-anchor="start" font-size="12">X</text>
<text x="74.8" y="647.5" font-size="12" font-style="italic">Φ</text>
<text x="86.2" y="647.5" text-anchor="start" font-size="12">19</text>
<line x1="241.3" y1="526.9" x2="241.3" y2="643.4" stroke="#3a3a3a" stroke-width="1"/>
<line x1="241.3" y1="752.5" x2="241.3" y2="774.7" stroke="#3a3a3a" stroke-width="1"/>
<polygon points="241.3,643.4 238.9,634.2 243.7,634.2" fill="#111"/>
<polygon points="241.3,752.5 238.9,761.7 243.7,761.7" fill="#111"/>
<line x1="237" y1="643.4" x2="258.9" y2="643.4" stroke="#000" stroke-width="1"/>
<line x1="237" y1="752.5" x2="258.9" y2="752.5" stroke="#000" stroke-width="1"/>
<text transform="translate(235.6 578.6) rotate(-90)" text-anchor="middle" font-size="12">348</text>
<line x1="241.3" y1="643.4" x2="241.3" y2="752.5" stroke="#3a3a3a" stroke-width="1"/>
<line x1="296.4" y1="775.5" x2="368.3" y2="775.5" stroke="#3a3a3a" stroke-width="1"/>
<polygon points="296.4,775.5 305.6,773.1 305.6,777.9" fill="#111"/>
<polygon points="368.3,775.5 359.1,773.1 359.1,777.9" fill="#111"/>
<line x1="296.4" y1="733.3" x2="296.4" y2="780" stroke="#3a3a3a" stroke-width="1"/>
<line x1="368.3" y1="733.3" x2="368.3" y2="780" stroke="#3a3a3a" stroke-width="1"/>
<text x="332.8" y="771.5" text-anchor="middle" font-size="12">199</text>
<line x1="368.3" y1="661.9" x2="474.2" y2="661.9" stroke="#8a8a8a" stroke-width="1"/>
<line x1="368.3" y1="733.6" x2="474.2" y2="733.6" stroke="#8a8a8a" stroke-width="1"/>
<line x1="468.75" y1="661.9" x2="468.75" y2="733.6" stroke="#3a3a3a" stroke-width="1"/>
<polygon points="468.75,661.9 466.35,671.1 471.15,671.1" fill="#111"/>
<polygon points="468.75,733.6 466.35,724.4 471.15,724.4" fill="#111"/>
<text transform="translate(463.3 696.2) rotate(-90)" text-anchor="middle" font-size="12">192</text>
<rect x="200.4" y="648.75" width="6.1" height="97.75" rx="0" stroke="#1e1e1e" stroke-width="0.85" fill="none"/>
<rect x="207.2" y="658.1" width="5.45" height="79.4" rx="0" stroke="#1e1e1e" stroke-width="0.85" fill="none"/>
<line x1="200.6" y1="649" x2="200.6" y2="668" stroke="#000" stroke-width="1.5"/>
<circle cx="180.4" cy="697.4" r="34" stroke="#1e1e1e" stroke-width="0.85" fill="#fff"/>
<circle cx="180.4" cy="697.4" r="25.6" stroke="#1e1e1e" stroke-width="0.85" fill="none"/>
<circle cx="180.4" cy="697.4" r="17.5" stroke="#1e1e1e" stroke-width="0.85" fill="none"/>
<line x1="142.3" y1="668.5" x2="142.3" y2="726.6" stroke="#000" stroke-width="1.5"/>
<path d="M143.1 676 L143.1 659 L152.9 659 L152.9 669.6 Q152.9 672 151.6 672.6" stroke="#1e1e1e" stroke-width="0.85" fill="none"/>
<line x1="149.4" y1="659" x2="149.4" y2="671.4" stroke="#3a3a3a" stroke-width="1"/>
<path d="M151.5 672.8 L167.4 653.6" stroke="#1e1e1e" stroke-width="0.85" fill="none"/>
<path d="M143.1 720 L143.1 736.3 L152.9 736.3 L152.9 723.4" stroke="#1e1e1e" stroke-width="0.85" fill="none"/>
<line x1="149.4" y1="722.7" x2="149.4" y2="736.3" stroke="#3a3a3a" stroke-width="1"/>
<path d="M149.4 722.7 C152 721.6 155.5 723.8 156.8 726.6 L158.75 731.25" stroke="#1e1e1e" stroke-width="0.85" fill="none"/>
<line x1="143.1" y1="668" x2="143.1" y2="727" stroke="#000" stroke-width="1"/>
<path d="M168.5 664.4 C167.2 660 167 657 167.3 654.5 C168 646 174 641.2 180.3 641 C187 641.2 192.8 646 193.2 653.4 C193.3 657 192.3 661 190.8 664.4" stroke="#1e1e1e" stroke-width="0.85" fill="none"/>
<line x1="178.3" y1="641.3" x2="178.3" y2="664" stroke="#000" stroke-width="1.3"/>
<line x1="182.6" y1="641.3" x2="182.6" y2="664" stroke="#000" stroke-width="1.3"/>
<path d="M170.5 643.7 L158.4 643.7 L158.4 652.7 L165.6 652.7 M158.4 646.8 L168.6 646.8 M158.4 650 L166.3 650" stroke="#000" stroke-width="1.2" fill="none"/>
<path d="M165.8 657 L158.75 657 L158.75 664.5" stroke="#000" stroke-width="1.2" fill="none"/>
<path d="M189.5 643.7 L202.5 643.7 L202.5 648.75 M191.6 646.8 L202.5 646.8" stroke="#000" stroke-width="1.2" fill="none"/>
<path d="M189.3 655.8 L200 655.8 M188.4 657.3 L200 657.3 M189.8 660 L200 660 M188.4 657.3 L190.6 663.6" stroke="#1e1e1e" stroke-width="0.85" fill="none"/>
<path d="M161.1 726.6 L162.7 750.8 C163.3 754 164 757 165.8 759.4 C167.5 762 169 764 171.25 765.6 C173.5 767.3 176 768.6 178.3 769.1 L182.6 769.1 C185.5 768.3 188.5 766.8 190.8 764.8 C193 763 195 760.5 196.25 757.8 C197.4 755.5 197.9 753 198.2 750.8 L199 726.6" stroke="#1e1e1e" stroke-width="0.85" fill="none"/>
<line x1="199.6" y1="727" x2="199.6" y2="745" stroke="#000" stroke-width="1.6"/>
<line x1="161.4" y1="731" x2="161.4" y2="748" stroke="#000" stroke-width="1.4"/>
<rect x="178.3" y="747.3" width="4.3" height="21.8" rx="0" stroke="#1e1e1e" stroke-width="0.85" fill="none"/>
<path d="M175.2 734 L175.2 742.5 Q175.4 747.3 180.4 747.3 Q185.5 747.3 185.7 742.5 L185.7 734 Z" stroke="#1e1e1e" stroke-width="0.85" fill="none"/>
<rect x="178.3" y="731.6" width="4.3" height="2.4" rx="0" stroke="#1e1e1e" stroke-width="0.85" fill="none"/>
<rect x="158.4" y="743.4" width="4.3" height="8.2" rx="0" stroke="#1e1e1e" stroke-width="0.85" fill="none"/>
<line x1="158.4" y1="748.4" x2="162.7" y2="748.4" stroke="#3a3a3a" stroke-width="1"/>
<rect x="198.2" y="746.9" width="4.7" height="4.7" rx="0" stroke="#1e1e1e" stroke-width="0.85" fill="none"/>
<line x1="198.2" y1="748.8" x2="202.9" y2="748.8" stroke="#3a3a3a" stroke-width="1"/>
<path d="M158.4 730.5 L158.4 738.3 L161.5 738.3" stroke="#1e1e1e" stroke-width="0.85" fill="none"/>
<line x1="212.5" y1="726.05" x2="219" y2="726.05" stroke="#000" stroke-width="1"/>
<line x1="212.5" y1="721.7" x2="219" y2="721.7" stroke="#000" stroke-width="1"/>
<line x1="219" y1="726.05" x2="246" y2="726.05" stroke="#aaa" stroke-width="1"/>
<line x1="219" y1="721.7" x2="246" y2="721.7" stroke="#aaa" stroke-width="1"/>
<line x1="220.3" y1="725.8" x2="220.3" y2="721.9" stroke="#000" stroke-width="1.4"/>
<line x1="223.4" y1="725.8" x2="223.4" y2="721.9" stroke="#000" stroke-width="1.4"/>
<line x1="230" y1="725.8" x2="230" y2="721.9" stroke="#000" stroke-width="1.4"/>
<line x1="237" y1="725.8" x2="237" y2="721.9" stroke="#000" stroke-width="1.4"/>
<line x1="243.4" y1="725.8" x2="243.4" y2="721.9" stroke="#000" stroke-width="1.4"/>
<path d="M212.5 719.3 C225 717.3 236 718.3 247 721.3" stroke="#3a3a3a" stroke-width="1" fill="none"/>
<line x1="212.5" y1="713.55" x2="246" y2="713.55" stroke="#000" stroke-width="1"/>
<line x1="212.5" y1="698.2" x2="247.5" y2="698.2" stroke="#000" stroke-width="1"/>
<line x1="212.5" y1="668.75" x2="219" y2="668.75" stroke="#000" stroke-width="1"/>
<line x1="212.5" y1="673.1" x2="219" y2="673.1" stroke="#000" stroke-width="1"/>
<line x1="219" y1="668.75" x2="246" y2="668.75" stroke="#aaa" stroke-width="1"/>
<line x1="219" y1="673.1" x2="246" y2="673.1" stroke="#aaa" stroke-width="1"/>
<line x1="220.3" y1="669" x2="220.3" y2="672.9" stroke="#000" stroke-width="1.4"/>
<line x1="223.4" y1="669" x2="223.4" y2="672.9" stroke="#000" stroke-width="1.4"/>
<line x1="230" y1="669" x2="230" y2="672.9" stroke="#000" stroke-width="1.4"/>
<line x1="237" y1="669" x2="237" y2="672.9" stroke="#000" stroke-width="1.4"/>
<line x1="243.4" y1="669" x2="243.4" y2="672.9" stroke="#000" stroke-width="1.4"/>
<path d="M212.5 675.5 C225 677.5 236 676.5 247 673.5" stroke="#3a3a3a" stroke-width="1" fill="none"/>
<line x1="212.5" y1="681.25" x2="246" y2="681.25" stroke="#000" stroke-width="1"/>
<line x1="212.5" y1="696.6" x2="247.5" y2="696.6" stroke="#000" stroke-width="1"/>
<rect x="212.5" y="696.2" width="35" height="2.6" rx="0" fill="#bbb"/>
<circle cx="229.75" cy="702.9" r="1.5" stroke="#1e1e1e" stroke-width="0.85" fill="#555"/>
<circle cx="221.5" cy="688.4" r="0.5" stroke="#000" stroke-width="0.6" fill="#000"/>
<circle cx="239.5" cy="688.4" r="0.5" stroke="#000" stroke-width="0.6" fill="#000"/>
<circle cx="226.5" cy="707" r="0.5" stroke="#000" stroke-width="0.6" fill="#000"/>
<circle cx="233" cy="707" r="0.5" stroke="#000" stroke-width="0.6" fill="#000"/>
<path d="M248.75 643.4 L258.9 643.4 L258.9 752.5 L248.75 752.5 C246.6 720 246.6 676 248.75 643.4 Z" stroke="#1e1e1e" stroke-width="0.85" fill="none"/>
<line x1="253.1" y1="643.4" x2="253.1" y2="752.5" stroke="#3a3a3a" stroke-width="1"/>
<line x1="255" y1="643.4" x2="255" y2="752.5" stroke="#3a3a3a" stroke-width="1"/>
<path d="M249 646 C247.8 660 247.4 668 247.4 676" stroke="#000" stroke-width="1.6" fill="none"/>
<path d="M249 750 C247.8 736 247.4 728 247.4 720" stroke="#000" stroke-width="1.6" fill="none"/>
<line x1="258.9" y1="657" x2="273.4" y2="657" stroke="#3a3a3a" stroke-width="1"/>
<line x1="258.9" y1="738.3" x2="273.4" y2="738.3" stroke="#3a3a3a" stroke-width="1"/>
<rect x="273.4" y="646.6" width="109" height="102.8" rx="0" stroke="#1e1e1e" stroke-width="0.85" fill="none"/>
<line x1="273.4" y1="647.2" x2="382.4" y2="647.2" stroke="#000" stroke-width="1.3"/>
<line x1="273.4" y1="650.5" x2="382.4" y2="650.5" stroke="#000" stroke-width="1"/>
<line x1="273.4" y1="744.2" x2="382.4" y2="744.2" stroke="#8a8a8a" stroke-width="1"/>
<line x1="273.4" y1="745.8" x2="382.4" y2="745.8" stroke="#3a3a3a" stroke-width="1"/>
<line x1="273.4" y1="665.3" x2="296.4" y2="665.3" stroke="#8a8a8a" stroke-width="1"/>
<line x1="368.3" y1="665.3" x2="382.4" y2="665.3" stroke="#8a8a8a" stroke-width="1"/>
<line x1="273.4" y1="672.3" x2="296.4" y2="672.3" stroke="#000" stroke-width="1.2"/>
<line x1="368.3" y1="672.3" x2="382.4" y2="672.3" stroke="#000" stroke-width="1.2"/>
<line x1="273.4" y1="675.5" x2="296.4" y2="675.5" stroke="#8a8a8a" stroke-width="1"/>
<line x1="368.3" y1="675.5" x2="382.4" y2="675.5" stroke="#8a8a8a" stroke-width="1"/>
<line x1="273.4" y1="680.2" x2="296.4" y2="680.2" stroke="#8a8a8a" stroke-width="1"/>
<line x1="368.3" y1="680.2" x2="382.4" y2="680.2" stroke="#8a8a8a" stroke-width="1"/>
<line x1="273.4" y1="684" x2="296.4" y2="684" stroke="#8a8a8a" stroke-width="1"/>
<line x1="368.3" y1="684" x2="382.4" y2="684" stroke="#8a8a8a" stroke-width="1"/>
<line x1="273.4" y1="688.75" x2="296.4" y2="688.75" stroke="#8a8a8a" stroke-width="1"/>
<line x1="368.3" y1="688.75" x2="382.4" y2="688.75" stroke="#8a8a8a" stroke-width="1"/>
<line x1="273.4" y1="692.7" x2="296.4" y2="692.7" stroke="#8a8a8a" stroke-width="1"/>
<line x1="368.3" y1="692.7" x2="382.4" y2="692.7" stroke="#8a8a8a" stroke-width="1"/>
<line x1="273.4" y1="701.25" x2="296.4" y2="701.25" stroke="#8a8a8a" stroke-width="1"/>
<line x1="368.3" y1="701.25" x2="382.4" y2="701.25" stroke="#8a8a8a" stroke-width="1"/>
<line x1="273.4" y1="705.2" x2="296.4" y2="705.2" stroke="#000" stroke-width="1.2"/>
<line x1="368.3" y1="705.2" x2="382.4" y2="705.2" stroke="#000" stroke-width="1.2"/>
<line x1="273.4" y1="709" x2="296.4" y2="709" stroke="#000" stroke-width="1.2"/>
<line x1="368.3" y1="709" x2="382.4" y2="709" stroke="#000" stroke-width="1.2"/>
<line x1="273.4" y1="713.4" x2="296.4" y2="713.4" stroke="#8a8a8a" stroke-width="1"/>
<line x1="368.3" y1="713.4" x2="382.4" y2="713.4" stroke="#8a8a8a" stroke-width="1"/>
<line x1="273.4" y1="717.2" x2="296.4" y2="717.2" stroke="#000" stroke-width="1.2"/>
<line x1="368.3" y1="717.2" x2="382.4" y2="717.2" stroke="#000" stroke-width="1.2"/>
<line x1="273.4" y1="722.3" x2="296.4" y2="722.3" stroke="#8a8a8a" stroke-width="1"/>
<line x1="368.3" y1="722.3" x2="382.4" y2="722.3" stroke="#8a8a8a" stroke-width="1"/>
<line x1="273.4" y1="729.4" x2="296.4" y2="729.4" stroke="#8a8a8a" stroke-width="1"/>
<line x1="368.3" y1="729.4" x2="382.4" y2="729.4" stroke="#8a8a8a" stroke-width="1"/>
<rect x="296.4" y="661.9" width="71.9" height="71.4" rx="2.5" stroke="#3a3a3a" stroke-width="1" fill="#fff"/>
<path d="M300 661.9 L305.8 660.3 L358.9 660.3 L364.7 661.9" stroke="#8a8a8a" stroke-width="1" fill="none"/>
<path d="M382.4 646.6 L429.7 646.6 L436.7 653.1 L436.7 742.7 L429.7 749.4 L382.4 749.4" stroke="#1e1e1e" stroke-width="0.85" fill="none"/>
<line x1="429.7" y1="646.6" x2="429.7" y2="749.4" stroke="#8a8a8a" stroke-width="1"/>
<line x1="135.3" y1="697.4" x2="158" y2="697.4" stroke="#3a3a3a" stroke-width="1"/>
<line x1="162.5" y1="697.4" x2="164.5" y2="697.4" stroke="#3a3a3a" stroke-width="1"/>
<line x1="169" y1="697.4" x2="192" y2="697.4" stroke="#3a3a3a" stroke-width="1"/>
<line x1="196" y1="697.4" x2="198" y2="697.4" stroke="#3a3a3a" stroke-width="1"/>
<line x1="203" y1="697.4" x2="225" y2="697.4" stroke="#3a3a3a" stroke-width="1"/>
<line x1="228" y1="697.4" x2="247" y2="697.4" stroke="#3a3a3a" stroke-width="1"/>
<line x1="262" y1="697.4" x2="443" y2="697.4" stroke="#8a8a8a" stroke-width="1" stroke-dasharray="26 5 3 5"/>
<line x1="180.4" y1="640" x2="180.4" y2="770" stroke="#3a3a3a" stroke-width="1" stroke-dasharray="20 3 2 3"/>
<path d="M32.8 651.4 L135.6 651.4 L152 684.4" stroke="#3a3a3a" stroke-width="1" fill="none"/>
<polygon points="151.6,683.6 146.69,678.22 150.28,676.44" fill="#111"/>
<circle cx="153.9" cy="686.9" r="2.3" stroke="#1e1e1e" stroke-width="0.85" fill="none"/>
</g>
<g id="footprint">
<line x1="653" y1="602.3" x2="730.3" y2="602.3" stroke="#000" stroke-width="1"/>
<polygon points="675.3,602.3 666.1,599.9 666.1,604.7" fill="#000"/>
<polygon points="708,602.3 717.2,599.9 717.2,604.7" fill="#000"/>
<line x1="675.3" y1="598" x2="675.3" y2="654.2" stroke="#8a8a8a" stroke-width="1"/>
<line x1="708" y1="598" x2="708" y2="654.2" stroke="#8a8a8a" stroke-width="1"/>
<text x="691.8" y="597.5" text-anchor="middle" font-size="12">120</text>
<line x1="630.3" y1="648.3" x2="630.3" y2="734.4" stroke="#000" stroke-width="1.3"/>
<polygon points="630.3,648.3 627.9,657.5 632.7,657.5" fill="#000"/>
<polygon points="630.3,734.4 627.9,725.2 632.7,725.2" fill="#000"/>
<line x1="625.6" y1="648.3" x2="681" y2="648.3" stroke="#3a3a3a" stroke-width="1"/>
<line x1="625.6" y1="734.4" x2="678.75" y2="734.4" stroke="#000" stroke-width="1.3"/>
<text transform="translate(625.3 696.4) rotate(-90)" text-anchor="middle" font-size="12">315</text>
<line x1="802.2" y1="622.2" x2="884.8" y2="622.2" stroke="#3a3a3a" stroke-width="1"/>
<polygon points="802.2,622.2 811.4,619.8 811.4,624.6" fill="#000"/>
<polygon points="884.8,622.2 875.6,619.8 875.6,624.6" fill="#000"/>
<line x1="802.2" y1="617.5" x2="802.2" y2="654.2" stroke="#8a8a8a" stroke-width="1"/>
<line x1="884.8" y1="617.5" x2="884.8" y2="654.2" stroke="#8a8a8a" stroke-width="1"/>
<text x="838.2" y="618.75" text-anchor="middle" font-size="12">279</text>
<line x1="878.4" y1="647.7" x2="984.7" y2="647.7" stroke="#8a8a8a" stroke-width="1.2"/>
<line x1="878.4" y1="734.4" x2="984.7" y2="734.4" stroke="#000" stroke-width="1.3"/>
<line x1="979.8" y1="647.7" x2="979.8" y2="734.4" stroke="#3a3a3a" stroke-width="1"/>
<polygon points="979.8,647.7 977.4,656.9 982.2,656.9" fill="#111"/>
<polygon points="979.8,734.4 977.4,725.2 982.2,725.2" fill="#111"/>
<text transform="translate(974.8 696.5) rotate(-90)" text-anchor="middle" font-size="12">279</text>
<line x1="742.8" y1="770.4" x2="825.2" y2="770.4" stroke="#000" stroke-width="1.2"/>
<polygon points="765.5,770.4 756.3,768 756.3,772.8" fill="#000"/>
<polygon points="802.1,770.4 811.3,768 811.3,772.8" fill="#000"/>
<line x1="765.5" y1="745.6" x2="765.5" y2="774.8" stroke="#3a3a3a" stroke-width="1"/>
<line x1="802.1" y1="734.4" x2="802.1" y2="774.8" stroke="#8a8a8a" stroke-width="1"/>
<text x="784.6" y="766" text-anchor="middle" font-size="12">121</text>
<line x1="646" y1="691" x2="664.3" y2="691" stroke="#aaa" stroke-width="1.6"/>
<line x1="671.2" y1="691" x2="674" y2="691" stroke="#aaa" stroke-width="1.6"/>
<line x1="680.35" y1="691" x2="698.65" y2="691" stroke="#aaa" stroke-width="1.6"/>
<line x1="705.55" y1="691" x2="708.35" y2="691" stroke="#aaa" stroke-width="1.6"/>
<line x1="714.7" y1="691" x2="733" y2="691" stroke="#aaa" stroke-width="1.6"/>
<line x1="739.9" y1="691" x2="742.7" y2="691" stroke="#aaa" stroke-width="1.6"/>
<line x1="749.05" y1="691" x2="767.35" y2="691" stroke="#aaa" stroke-width="1.6"/>
<line x1="774.25" y1="691" x2="777.05" y2="691" stroke="#aaa" stroke-width="1.6"/>
<line x1="783.4" y1="691" x2="801.7" y2="691" stroke="#aaa" stroke-width="1.6"/>
<line x1="808.6" y1="691" x2="811.4" y2="691" stroke="#aaa" stroke-width="1.6"/>
<line x1="817.75" y1="691" x2="836.05" y2="691" stroke="#aaa" stroke-width="1.6"/>
<line x1="842.95" y1="691" x2="845.75" y2="691" stroke="#aaa" stroke-width="1.6"/>
<line x1="852.1" y1="691" x2="870.4" y2="691" stroke="#aaa" stroke-width="1.6"/>
<line x1="877.3" y1="691" x2="880.1" y2="691" stroke="#aaa" stroke-width="1.6"/>
<line x1="886.45" y1="691" x2="904.75" y2="691" stroke="#aaa" stroke-width="1.6"/>
<line x1="911.65" y1="691" x2="914.45" y2="691" stroke="#aaa" stroke-width="1.6"/>
<line x1="920.8" y1="691" x2="939.1" y2="691" stroke="#aaa" stroke-width="1.6"/>
<line x1="946" y1="691" x2="948.8" y2="691" stroke="#aaa" stroke-width="1.6"/>
<line x1="691.25" y1="615" x2="691.25" y2="642" stroke="#3a3a3a" stroke-width="1"/>
<line x1="691.25" y1="645.5" x2="691.25" y2="648" stroke="#3a3a3a" stroke-width="1"/>
<line x1="691.25" y1="652" x2="691.25" y2="676" stroke="#3a3a3a" stroke-width="1"/>
<line x1="691.25" y1="679.5" x2="691.25" y2="682" stroke="#3a3a3a" stroke-width="1"/>
<line x1="691.25" y1="685" x2="691.25" y2="701" stroke="#3a3a3a" stroke-width="1"/>
<line x1="691.25" y1="705" x2="691.25" y2="707.5" stroke="#3a3a3a" stroke-width="1"/>
<line x1="691.25" y1="711" x2="691.25" y2="736" stroke="#3a3a3a" stroke-width="1"/>
<line x1="691.25" y1="739.5" x2="691.25" y2="741.5" stroke="#3a3a3a" stroke-width="1"/>
<line x1="691.25" y1="745" x2="691.25" y2="752" stroke="#3a3a3a" stroke-width="1"/>
<path d="M675.3 636 C675.5 626 683 620 691.25 619 C699.5 620 707.8 626 708 636" stroke="#3a3a3a" stroke-width="1" fill="none" stroke-dasharray="3 2"/>
<rect x="669.4" y="637.5" width="5.9" height="8.9" rx="1.5" stroke="#1e1e1e" stroke-width="0.85" fill="none"/>
<rect x="708" y="637.5" width="6" height="8.9" rx="1.5" stroke="#1e1e1e" stroke-width="0.85" fill="none"/>
<path d="M675.3 651.9 L670.2 651.9 L669.6 657 L665 665.2 L664.7 652.7 L654.4 652.7 L654.2 662 L653.4 664 L653.4 719 L654.6 722 L654.6 730.3 L664.7 730.3 L664.7 717.5 L667 719 L669.4 724 L669.4 731.5 L677.2 731.5 L677.2 734.4" stroke="#1e1e1e" stroke-width="0.85" fill="none" stroke-dasharray="2.6 2.2"/>
<path d="M708 651.9 L713.6 651.9 L713.6 656.5" stroke="#1e1e1e" stroke-width="0.85" fill="none" stroke-dasharray="2.6 2.2"/>
<path d="M677.2 737 L669.4 737 L669.4 745.3 L685 745.3 Q691.25 751 697.5 745.3 L713.4 745.3 L713.4 737 L705.8 737" stroke="#1e1e1e" stroke-width="0.85" fill="none" stroke-dasharray="2.6 2.2"/>
<path d="M705.6 734.4 L713.4 730.8 L713.4 740 L717.5 740" stroke="#1e1e1e" stroke-width="0.85" fill="none" stroke-dasharray="2.6 2.2"/>
<path d="M705.2 734.4 L708.5 731.6 M705.2 734.4 L708.5 737" stroke="#1e1e1e" stroke-width="0.85" fill="none"/>
<path d="M678.4 734.4 L675 732 M678.4 734.4 L675 736.6" stroke="#1e1e1e" stroke-width="0.85" fill="none"/>
<line x1="717.5" y1="642.5" x2="717.5" y2="740" stroke="#222" stroke-width="0.9" stroke-dasharray="2.6 2.2"/>
<path d="M714 642.5 L717.5 642.5 M717.8 652 L721.5 652 Q723.3 652 723.3 654 L723.3 660 Q723.3 662 725.5 662 L758.6 662 L760.3 637.5 L770.5 637.5 L770.5 651 L784.5 651 L784.5 640.2 L796 639.8" stroke="#1e1e1e" stroke-width="0.85" fill="none" stroke-dasharray="2.6 2.2"/>
<path d="M717.8 730.8 L724 730.8 L724 723 Q724 721 726 721 L758.6 721 L760 743 Q760.2 745.4 762.5 745.4 L768.5 745.4 Q770.5 745.4 770.5 743 L770.5 732.2 L785.3 732.2 L785.3 743.3" stroke="#1e1e1e" stroke-width="0.85" fill="none" stroke-dasharray="2.6 2.2"/>
<line x1="765.5" y1="637.5" x2="765.5" y2="745.4" stroke="#222" stroke-width="0.9" stroke-dasharray="2.6 2.2"/>
<line x1="796" y1="639.8" x2="939.7" y2="639.8" stroke="#8a8a8a" stroke-width="1.3" stroke-dasharray="2.6 2.6"/>
<line x1="785.3" y1="743.2" x2="939.7" y2="743.2" stroke="#8a8a8a" stroke-width="1.3" stroke-dasharray="2.6 2.6"/>
<path d="M939.7 639.8 L947.5 646.9 L947.5 736 L939.7 743.2" stroke="#1e1e1e" stroke-width="0.85" fill="none" stroke-dasharray="2.6 2.2"/>
<line x1="892.3" y1="639.8" x2="892.3" y2="743.2" stroke="#222" stroke-width="0.9" stroke-dasharray="2.6 2.2"/>
<circle cx="802.1" cy="647.9" r="2.5" stroke="#1e1e1e" stroke-width="0.85" fill="none"/>
<line x1="795.5" y1="647.9" x2="808.3" y2="647.9" stroke="#3a3a3a" stroke-width="1"/>
<line x1="802.1" y1="642.4" x2="802.1" y2="653.9" stroke="#8a8a8a" stroke-width="1"/>
<circle cx="802.1" cy="734.3" r="2.5" stroke="#1e1e1e" stroke-width="0.85" fill="none"/>
<line x1="795.5" y1="734.3" x2="808.3" y2="734.3" stroke="#3a3a3a" stroke-width="1"/>
<line x1="802.1" y1="728.8" x2="802.1" y2="740.3" stroke="#8a8a8a" stroke-width="1"/>
<circle cx="884.8" cy="647.9" r="2.5" stroke="#1e1e1e" stroke-width="0.85" fill="none"/>
<line x1="878.2" y1="647.9" x2="891" y2="647.9" stroke="#3a3a3a" stroke-width="1"/>
<line x1="884.8" y1="642.4" x2="884.8" y2="653.9" stroke="#8a8a8a" stroke-width="1"/>
<circle cx="884.8" cy="734.3" r="2.5" stroke="#1e1e1e" stroke-width="0.85" fill="none"/>
<line x1="878.2" y1="734.3" x2="891" y2="734.3" stroke="#3a3a3a" stroke-width="1"/>
<line x1="884.8" y1="728.8" x2="884.8" y2="740.3" stroke="#8a8a8a" stroke-width="1"/>
</g>
</svg>
</body></html>
